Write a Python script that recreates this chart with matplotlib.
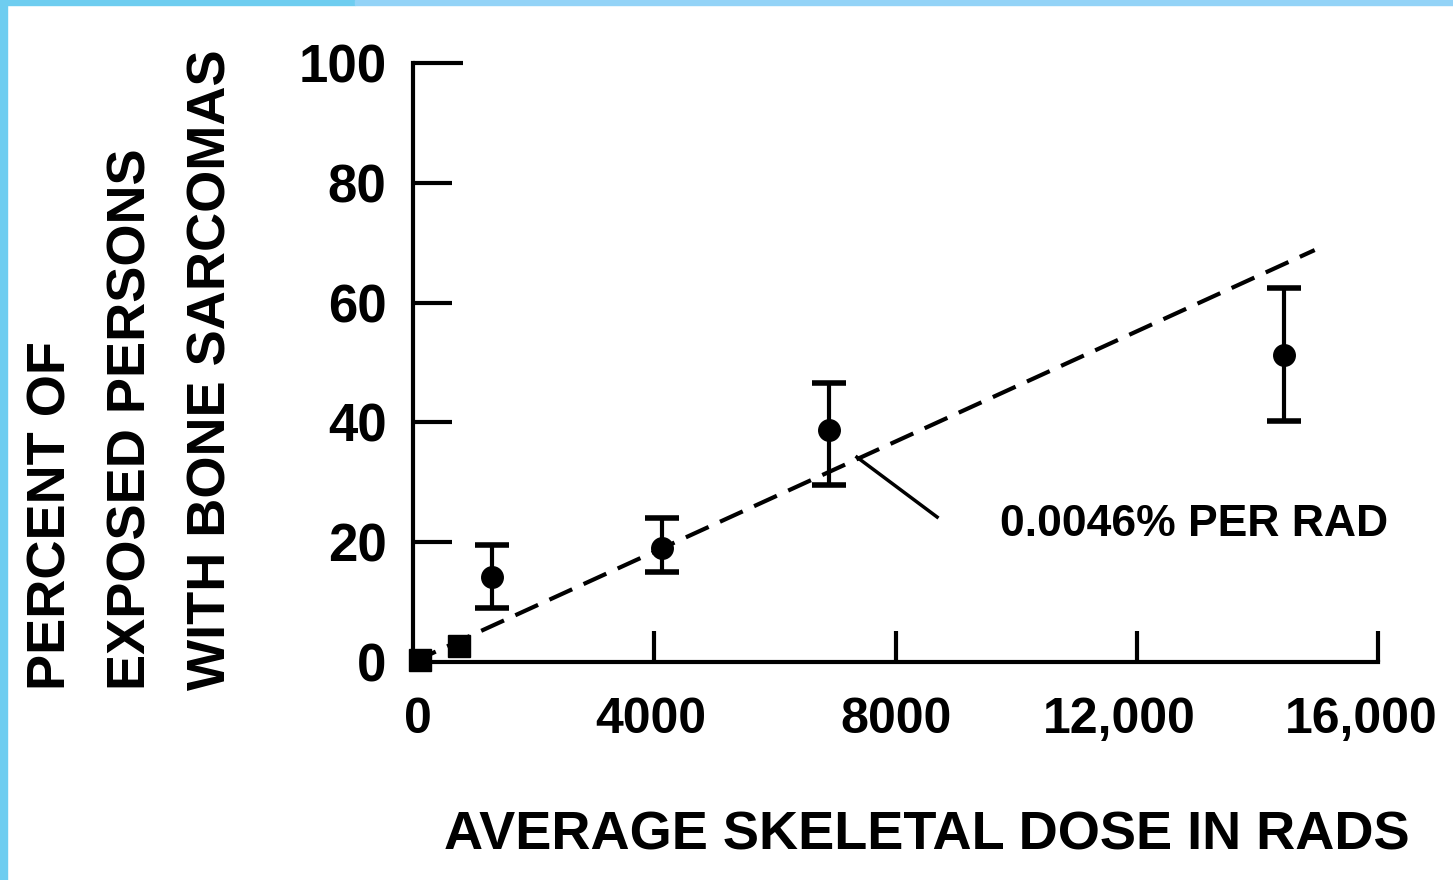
import matplotlib
matplotlib.use("Agg")
import matplotlib.pyplot as plt
from matplotlib.patches import Rectangle
from matplotlib.transforms import ScaledTranslation

plt.rcParams['font.family'] = ['Liberation Sans Narrow', 'Liberation Sans', 'DejaVu Sans']
plt.rcParams['font.weight'] = 'bold'

# data
dose_sq = [115, 760]
pct_sq = [0.3, 2.7]

dose = [1310, 4130, 6900, 14440]
pct = [14.2, 19.0, 38.7, 51.2]
err_lo = [5.2, 4.0, 9.2, 10.9]
err_hi = [5.3, 5.0, 7.8, 11.3]

fit_dose = [0, 14950]
slope = 0.0046
fit_pct = [slope * d for d in fit_dose]

xticks = [0, 4000, 8000, 12000, 16000]
xlabels = ['0', '4000', '8000', '12,000', '16,000']
yticks = [0, 20, 40, 60, 80, 100]

W, H = 1453, 880
fig = plt.figure(figsize=(W / 100, H / 100), dpi=100)

# blue frame of the screenshot
fig.patches.append(Rectangle((0, 1 - 5 / H), 355 / W, 5 / H, transform=fig.transFigure,
                             color='#6ecdf0', zorder=0))
fig.patches.append(Rectangle((355 / W, 1 - 5 / H), 1 - 355 / W, 5 / H, transform=fig.transFigure,
                             color='#93d3f7', zorder=0))
fig.patches.append(Rectangle((0, 0), 7 / W, 1, transform=fig.transFigure,
                             color='#6ecdf0', zorder=0))

ax = fig.add_axes([413 / W, 1 - 662 / H, (1378 - 413) / W, (662 - 63) / H])
ax.set_xlim(0, 16000)
ax.set_ylim(0, 100)
ax.patch.set_alpha(0)

for s in ['top', 'right']:
    ax.spines[s].set_visible(False)
for s in ['left', 'bottom']:
    ax.spines[s].set_linewidth(3)

ax.set_xticks(xticks)
ax.set_xticklabels(xlabels)
ax.set_yticks(yticks)
ax.tick_params(axis='y', direction='in', length=28, width=3, labelsize=38, pad=19)
ax.tick_params(axis='x', direction='in', length=22, width=3, labelsize=36, pad=25)
ax.xaxis.get_major_ticks()[0].tick1line.set_visible(False)
ax.yaxis.get_major_ticks()[0].tick1line.set_visible(False)
ax.yaxis.get_major_ticks()[-1].tick1line.set_markersize(36)

# nudge the labels like the scan
shifts = [5, -4, 0, -17, -17]
for lab, dx in zip(ax.get_xticklabels(), shifts):
    lab.set_transform(lab.get_transform() + ScaledTranslation(dx / 100, 0, fig.dpi_scale_trans))

# dashed fit line
ax.plot(fit_dose, fit_pct, color='black', lw=3, ls=(0, (6, 3)), clip_on=False, zorder=2)

ax.plot(dose_sq, pct_sq, 's', color='black', ms=16.5, clip_on=False, zorder=3)
ax.errorbar(dose, pct, yerr=[err_lo, err_hi], fmt='o', color='black', ms=15.5,
            elinewidth=3, capsize=12.5, capthick=4, clip_on=False, zorder=3)

# annotation with leader line
ax.plot([7360, 8690], [34.2, 24.2], color='black', lw=2.5, zorder=2)
ax.text(9735, 23.0, '0.0046% PER RAD', fontsize=32, va='center', ha='left')

fig.text(927 / W, 1 - 835 / H, 'AVERAGE SKELETAL DOSE IN RADS', fontsize=39,
         ha='center', va='center')

ylines = ['PERCENT OF', 'EXPOSED PERSONS', 'WITH BONE SARCOMAS']
for xp, t in zip([52, 132, 212], ylines):
    fig.text(xp / W, 1 - 690 / H, t, rotation=90, fontsize=39, ha='center', va='bottom')

fig.savefig('out.png', dpi=100, facecolor='white')
